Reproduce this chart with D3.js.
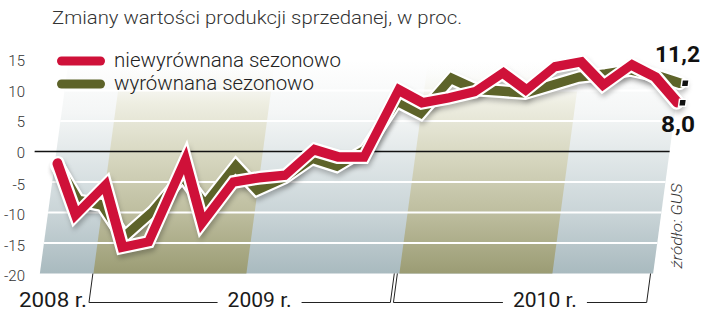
<!DOCTYPE html>
<html>
<head>
<meta charset="utf-8">
<script src="https://cdn.jsdelivr.net/npm/d3@7"></script>
<style>
  body { margin: 0; background: #fff; }
  text { font-family: Roboto, "Open Sans", sans-serif; }
</style>
</head>
<body>
<div id="chart"></div>
<script>
// miesiące X 2008 - X 2010
var months = ["X 08","XI 08","XII 08","I 09","II 09","III 09","IV 09","V 09","VI 09","VII 09","VIII 09","IX 09","X 09",
              "XI 09","XII 09","I 10","II 10","III 10","IV 10","V 10","VI 10","VII 10","VIII 10","IX 10","X 10"];
// niewyrównana sezonowo
var nsa = [-1.9, -10.4, -5.5, -15.7, -14.8, -1.4, -11.7, -5.0, -4.3, -3.9, 0.3, -0.9, -0.9,
           10.1, 8.0, 8.8, 9.8, 12.9, 10.1, 13.9, 14.7, 10.9, 14.2, 12.2, 8.0];
// wyrównana sezonowo
var sa = [-2.2, -8.0, -8.8, -14.0, -9.8, -4.0, -8.8, -2.4, -6.3, -4.3, -1.1, -2.4, 0.3,
          8.3, 6.3, 12.0, 10.2, 9.9, 9.6, 10.9, 12.2, 12.7, 13.4, 12.5, 11.2];
var yTicks = [15, 10, 5, 0, -5, -10, -15, -20];
var legendLabels = ["niewyrównana sezonowo", "wyrównana sezonowo"];
var endLabels = ["11,2", "8,0"];
// lata: początek/koniec klamry (indeks miesiąca) i położenie podpisu
var years = ["2008 r.", "2009 r.", "2010 r."];
var yearBrackets = [null, [1.98, 13.8], [13.92, 23.85]];
var yearLabelPos = [1.98, 8.67, 19.86];
// cieniowane półrocza
var bands = [[2, 8], [14, 20]];

var W = 720, H = 317;
var red = "#cf1139", olive = "#5d6329";
var k = 0.135; // pochylenie tła i wykresu

var svg = d3.select("#chart").append("svg")
  .attr("width", W).attr("height", H);

var x = d3.scaleLinear().domain([0, months.length - 1]).range([42.4, 654.4]);
var y = d3.scaleLinear().domain([-20, 15]).range([273.5, 60]);
var yB = y(-20);
function sx(i, yy) { return x(i) + k * (yB - yy); }

var defs = svg.append("defs");
var g1 = defs.append("linearGradient").attr("id", "panelGrad")
  .attr("gradientUnits", "userSpaceOnUse").attr("x1", 0).attr("x2", 0).attr("y1", y(15)).attr("y2", yB);
[[0, "#ffffff"], [0.25, "#f4f6f6"], [0.43, "#e3e9ea"], [0.72, "#c9d4d7"], [1, "#a9babf"]].forEach(function(s) {
  g1.append("stop").attr("offset", s[0]).attr("stop-color", s[1]);
});
var g2 = defs.append("linearGradient").attr("id", "bandGrad")
  .attr("gradientUnits", "userSpaceOnUse").attr("x1", 0).attr("x2", 0).attr("y1", y(15)).attr("y2", yB);
[[0, "#ffffff", 0], [0.2, "#eeeee2", 1], [0.43, "#d9d9c3", 1], [0.72, "#bdbd9e", 1], [1, "#9b9c74", 1]].forEach(function(s) {
  g2.append("stop").attr("offset", s[0]).attr("stop-color", s[1]).attr("stop-opacity", s[2]);
});
defs.append("filter").attr("id", "blur").attr("x", "-10%").attr("y", "-20%").attr("width", "120%").attr("height", "140%")
  .append("feGaussianBlur").attr("stdDeviation", 2.5);

// title
svg.append("text").attr("x", 52).attr("y", 24)
  .attr("font-size", 18).attr("font-weight", 300).attr("fill", "#333")
  .attr("textLength", 410).attr("lengthAdjust", "spacingAndGlyphs")
  .text("Zmiany wartości produkcji sprzedanej, w proc.");

// y labels
svg.selectAll(".ylab").data(yTicks).enter().append("text")
  .attr("class", "ylab")
  .attr("x", 25).attr("y", function(d) { return y(d) + 6 + (d < 0 ? 1.5 : 0); })
  .attr("text-anchor", "end").attr("font-size", 15).attr("font-weight", 300).attr("fill", "#333")
  .text(function(d) { return d; });

// sheared plot group
var g = svg.append("g")
  .attr("transform", "translate(" + (k * yB) + ",0) skewX(" + (-Math.atan(k) * 180 / Math.PI) + ")");

g.append("rect")
  .attr("x", x(-0.1)).attr("width", x(23.95) - x(-0.1))
  .attr("y", y(15)).attr("height", yB - y(15))
  .attr("fill", "url(#panelGrad)");

g.selectAll(".band").data(bands).enter().append("rect")
  .attr("x", function(d) { return x(d[0]); })
  .attr("width", function(d) { return x(d[1]) - x(d[0]); })
  .attr("y", y(15)).attr("height", yB - y(15))
  .attr("fill", "url(#bandGrad)");

g.selectAll(".grid").data(yTicks.filter(function(d) { return d !== 0 && d !== -20; })).enter().append("line")
  .attr("x1", x(-0.1)).attr("x2", x(23.95))
  .attr("y1", function(d) { return y(d); }).attr("y2", function(d) { return y(d); })
  .attr("stroke", "#fff").attr("stroke-width", 2);

g.append("line")
  .attr("x1", x(-0.95)).attr("x2", x(23.95))
  .attr("y1", y(0)).attr("y2", y(0))
  .attr("stroke", "#111").attr("stroke-width", 1.4);

var line = d3.line()
  .x(function(d, i) { return x(i); })
  .y(function(d) { return y(d); });

var series = [{ v: sa, c: olive }, { v: nsa, c: red }];
series.forEach(function(s) {
  g.append("path").datum(s.v).attr("d", line)
    .attr("fill", "none").attr("stroke", "#000").attr("stroke-opacity", 0.25)
    .attr("stroke-width", 13).attr("stroke-linejoin", "miter").attr("stroke-linecap", "round")
    .attr("transform", "translate(2,4)").attr("filter", "url(#blur)");
});
series.forEach(function(s) {
  g.append("path").datum(s.v).attr("d", line)
    .attr("fill", "none").attr("stroke", "#fff")
    .attr("stroke-width", 14).attr("stroke-linejoin", "miter").attr("stroke-linecap", "round");
  g.append("path").datum(s.v).attr("d", line)
    .attr("fill", "none").attr("stroke", s.c)
    .attr("stroke-width", 9.5).attr("stroke-linejoin", "miter").attr("stroke-linecap", "round");
});

// end markers
var last = months.length - 1;
g.selectAll(".endm").data([sa[last], nsa[last]]).enter().append("rect")
  .attr("x", x(last + 0.2) - 3.5).attr("y", function(d) { return y(d) - 3.5; })
  .attr("width", 7).attr("height", 7)
  .attr("fill", "#111").attr("stroke", "#fff").attr("stroke-width", 1.5);

// end labels
svg.append("text").attr("x", 700).attr("y", 62)
  .attr("text-anchor", "end").attr("font-size", 22).attr("font-weight", 700).attr("fill", "#111")
  .attr("textLength", 45).attr("lengthAdjust", "spacingAndGlyphs")
  .text(endLabels[0]);
svg.append("text").attr("x", 695).attr("y", 132)
  .attr("text-anchor", "end").attr("font-size", 22).attr("font-weight", 700).attr("fill", "#111")
  .attr("textLength", 34).attr("lengthAdjust", "spacingAndGlyphs")
  .text(endLabels[1]);

// legend
legendLabels.forEach(function(l, i) {
  var ly = 61 + i * 23;
  svg.append("line").attr("x1", 61.5).attr("x2", 100.5).attr("y1", ly).attr("y2", ly)
    .attr("stroke", i === 0 ? red : olive).attr("stroke-width", 9).attr("stroke-linecap", "round");
  svg.append("text").attr("x", 114).attr("y", ly + 6)
    .attr("font-size", 19.5).attr("font-weight", 300).attr("fill", "#222")
    .attr("textLength", i === 0 ? 227 : 200).attr("lengthAdjust", "spacingAndGlyphs")
    .text(l);
});

// year labels and brackets
var lineY = 302.5;
years.forEach(function(t, i) {
  var tx = sx(yearLabelPos[i], lineY);
  svg.append("text").attr("y", 307).attr("font-size", 21).attr("fill", "#1a1a1a")
    .attr("text-anchor", i === 0 ? "end" : "middle")
    .attr("x", i === 0 ? tx - 2 : tx)
    .attr("textLength", i === 0 ? 68 : 64).attr("lengthAdjust", "spacingAndGlyphs")
    .text(t);
  var br = yearBrackets[i];
  if (!br) return;
  var half = 32, gap = 10;
  var a = sx(br[0], lineY), b = sx(br[1], lineY);
  var bg = svg.append("g").attr("stroke", "#222").attr("stroke-width", 1).attr("fill", "none");
  bg.append("path").attr("d", "M" + sx(br[0], yB) + "," + yB + "L" + a + "," + lineY + "L" + (tx - half - gap) + "," + lineY);
  bg.append("path").attr("d", "M" + (tx + half + gap) + "," + lineY + "L" + b + "," + lineY + "L" + sx(br[1], yB) + "," + yB);
});

// source
svg.append("text")
  .attr("transform", "translate(682,226) rotate(-90)")
  .attr("text-anchor", "middle").attr("font-size", 15).attr("font-weight", 300)
  .attr("font-style", "italic").attr("fill", "#333")
  .attr("textLength", 85).attr("lengthAdjust", "spacingAndGlyphs")
  .text("źródło: GUS");
</script>
</body>
</html>
